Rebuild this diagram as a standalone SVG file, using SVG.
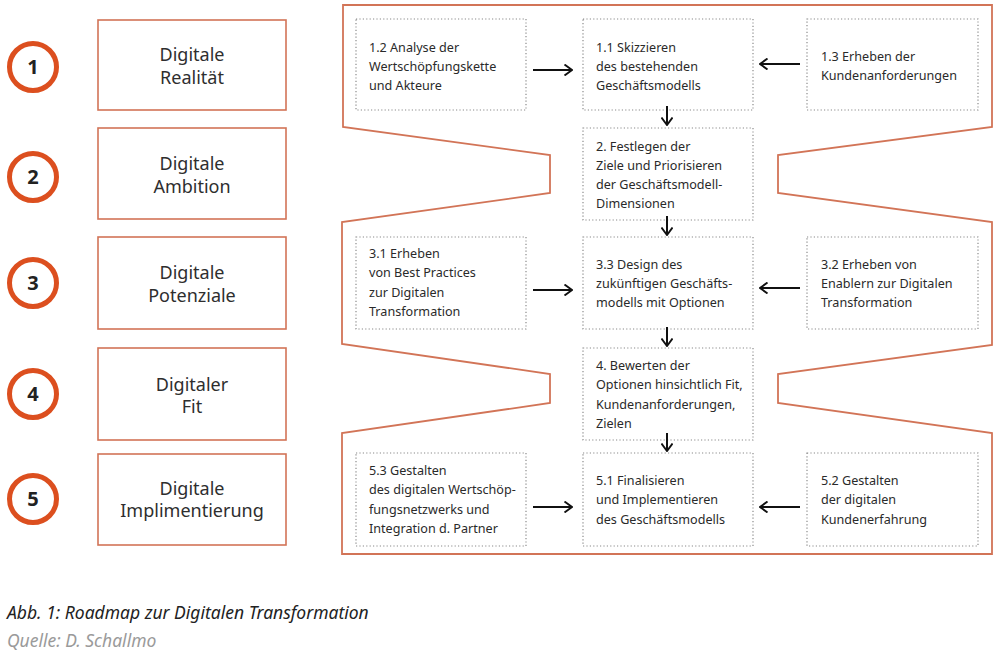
<svg xmlns="http://www.w3.org/2000/svg" width="1000" height="657" viewBox="0 0 1000 657">
<defs>
<style>
.phase{fill:#fff;stroke:#d27457;stroke-width:1.6}
.circ{fill:#fff;stroke:#dc4f1f;stroke-width:5}
.num{font-family:"Noto Sans","Liberation Sans",sans-serif;font-weight:bold;font-size:20px;fill:#222;text-anchor:middle}
.ptxt{font-family:"Noto Sans","Liberation Sans",sans-serif;font-size:18px;fill:#2e2e2e;text-anchor:middle}
.outline{fill:none;stroke:#d27457;stroke-width:1.8;stroke-linejoin:miter}
.step{fill:#fff;stroke:#8a8a8a;stroke-width:1.2;stroke-dasharray:1.2 2.2}
.stxt{font-family:"Noto Sans","Liberation Sans",sans-serif;font-size:12.6px;fill:#2a2a2a}
.arr{stroke:#111;stroke-width:2;fill:none;marker-end:url(#ah)}
.cap{font-family:"Noto Sans","Liberation Sans",sans-serif;font-style:italic;font-size:17.5px}
</style>
<marker id="ah" viewBox="0 0 12 12" refX="11" refY="6" markerWidth="12" markerHeight="12" markerUnits="userSpaceOnUse" orient="auto">
<polyline points="3.5,0.5 11,6 3.5,11.5" fill="none" stroke="#111" stroke-width="1.9"/>
</marker>
</defs>
<rect width="1000" height="657" fill="#fff"/>

<!-- outline -->
<path class="outline" d="M343,5 L992,5 L992,127 L778,155 L778,193 L992,222 L992,345 L778,374 L778,403 L992,433 L992,554 L342,554 L342,433 L550,403 L550,374 L342,344 L342,222 L550,193 L550,155 L343,127 Z"/>

<!-- phases -->
<g id="phase1"><circle class="circ" cx="33" cy="67" r="23.5"/><text class="num" x="33" y="74">1</text><rect class="phase" x="98" y="20" width="188" height="90"/><text class="ptxt" x="192" y="61">Digitale</text><text class="ptxt" x="192" y="84">Realität</text></g>
<g id="phase2"><circle class="circ" cx="33" cy="177" r="23.5"/><text class="num" x="33" y="184">2</text><rect class="phase" x="98" y="128" width="188" height="91"/><text class="ptxt" x="192" y="170">Digitale</text><text class="ptxt" x="192" y="193">Ambition</text></g>
<g id="phase3"><circle class="circ" cx="33" cy="283" r="23.5"/><text class="num" x="33" y="290">3</text><rect class="phase" x="98" y="237" width="188" height="92"/><text class="ptxt" x="192" y="279">Digitale</text><text class="ptxt" x="192" y="302">Potenziale</text></g>
<g id="phase4"><circle class="circ" cx="33" cy="394" r="23.5"/><text class="num" x="33" y="401">4</text><rect class="phase" x="98" y="348" width="188" height="92"/><text class="ptxt" x="192" y="391">Digitaler</text><text class="ptxt" x="192" y="413">Fit</text></g>
<g id="phase5"><circle class="circ" cx="33" cy="499" r="23.5"/><text class="num" x="33" y="506">5</text><rect class="phase" x="98" y="454" width="188" height="91"/><text class="ptxt" x="192" y="495">Digitale</text><text class="ptxt" x="192" y="517">Implimentierung</text></g>

<!-- steps -->
<g id="s12"><rect class="step" x="356" y="19" width="170" height="91"/><text class="stxt" x="369" y="52">1.2 Analyse der</text><text class="stxt" x="369" y="71">Wertschöpfungskette</text><text class="stxt" x="369" y="90">und Akteure</text></g>
<g id="s11"><rect class="step" x="583" y="19" width="170" height="91"/><text class="stxt" x="596" y="52">1.1 Skizzieren</text><text class="stxt" x="596" y="71">des bestehenden</text><text class="stxt" x="596" y="90">Geschäftsmodells</text></g>
<g id="s13"><rect class="step" x="807" y="19" width="171" height="91"/><text class="stxt" x="821" y="61">1.3 Erheben der</text><text class="stxt" x="821" y="80">Kundenanforderungen</text></g>
<g id="s2"><rect class="step" x="583" y="128" width="170" height="92"/><text class="stxt" x="596" y="151">2. Festlegen der</text><text class="stxt" x="596" y="170">Ziele und Priorisieren</text><text class="stxt" x="596" y="189">der Geschäftsmodell-</text><text class="stxt" x="596" y="208">Dimensionen</text></g>
<g id="s31"><rect class="step" x="356" y="237" width="170" height="92"/><text class="stxt" x="369" y="258">3.1 Erheben</text><text class="stxt" x="369" y="277">von Best Practices</text><text class="stxt" x="369" y="297">zur Digitalen</text><text class="stxt" x="369" y="316">Transformation</text></g>
<g id="s33"><rect class="step" x="583" y="237" width="170" height="92"/><text class="stxt" x="596" y="269">3.3 Design des</text><text class="stxt" x="596" y="288">zukünftigen Geschäfts-</text><text class="stxt" x="596" y="307">modells mit Optionen</text></g>
<g id="s32"><rect class="step" x="807" y="237" width="171" height="92"/><text class="stxt" x="821" y="269">3.2 Erheben von</text><text class="stxt" x="821" y="288">Enablern zur Digitalen</text><text class="stxt" x="821" y="307">Transformation</text></g>
<g id="s4"><rect class="step" x="583" y="348" width="170" height="92"/><text class="stxt" x="596" y="370">4. Bewerten der</text><text class="stxt" x="596" y="389">Optionen hinsichtlich Fit,</text><text class="stxt" x="596" y="409">Kundenanforderungen,</text><text class="stxt" x="596" y="428">Zielen</text></g>
<g id="s53"><rect class="step" x="356" y="453" width="170" height="93"/><text class="stxt" x="369" y="475">5.3 Gestalten</text><text class="stxt" x="369" y="494">des digitalen Wertschöp-</text><text class="stxt" x="369" y="514">fungsnetzwerks und</text><text class="stxt" x="369" y="533">Integration d. Partner</text></g>
<g id="s51"><rect class="step" x="583" y="453" width="170" height="93"/><text class="stxt" x="596" y="485">5.1 Finalisieren</text><text class="stxt" x="596" y="504">und Implementieren</text><text class="stxt" x="596" y="524">des Geschäftsmodells</text></g>
<g id="s52"><rect class="step" x="807" y="453" width="171" height="93"/><text class="stxt" x="821" y="485">5.2 Gestalten</text><text class="stxt" x="821" y="504">der digitalen</text><text class="stxt" x="821" y="524">Kundenerfahrung</text></g>

<!-- connectors -->
<g id="connectors">
<line class="arr" x1="533" y1="70" x2="572" y2="70"/>
<line class="arr" x1="800" y1="64" x2="760" y2="64"/>
<line class="arr" x1="667" y1="106" x2="667" y2="125"/>
<line class="arr" x1="667" y1="216" x2="667" y2="235"/>
<line class="arr" x1="533" y1="290" x2="572" y2="290"/>
<line class="arr" x1="800" y1="288" x2="760" y2="288"/>
<line class="arr" x1="667" y1="327" x2="667" y2="346"/>
<line class="arr" x1="667" y1="433" x2="667" y2="451"/>
<line class="arr" x1="533" y1="507" x2="572" y2="507"/>
<line class="arr" x1="800" y1="507" x2="760" y2="507"/>
</g>

<text class="cap" x="7" y="619" fill="#222">Abb. 1: Roadmap zur Digitalen Transformation</text>
<text class="cap" x="7" y="647" fill="#9a9a9a">Quelle: D. Schallmo</text>
</svg>
